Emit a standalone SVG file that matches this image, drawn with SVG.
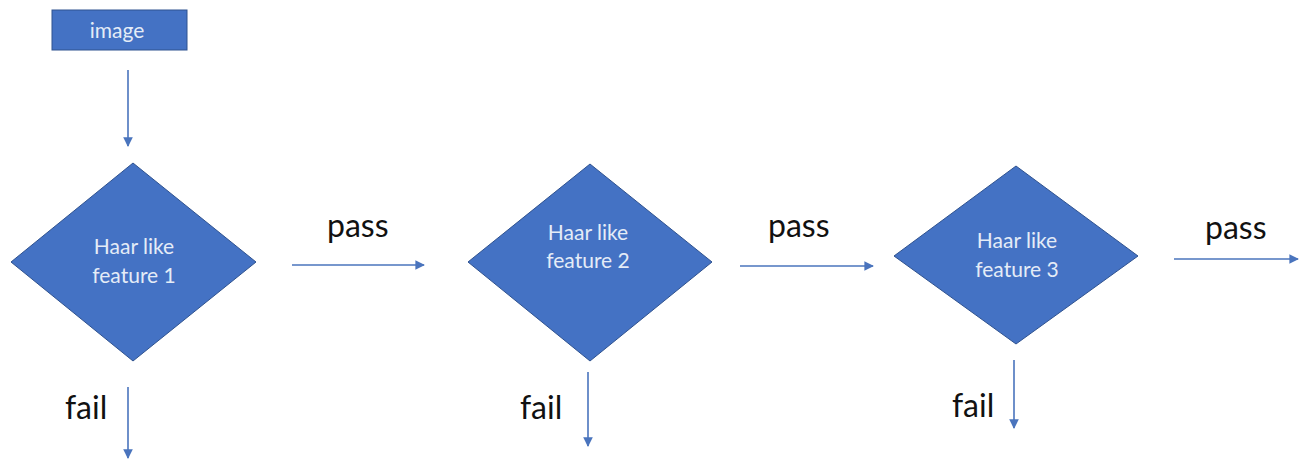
<svg xmlns="http://www.w3.org/2000/svg" width="1299" height="459" viewBox="0 0 1299 459">
<style>
.shape{fill:#4472c4;stroke:#2f528f;stroke-width:1}
.ntext{font-family:Lato,"Open Sans",sans-serif;font-size:21px;fill:#e4ecf7;text-anchor:middle}
.lbl{font-family:Lato,"Open Sans",sans-serif;font-size:32px;fill:#111}
.conn{stroke:#4a74bd;stroke-width:1.6;fill:none;marker-end:url(#ah)}
</style>
<defs>
<marker id="ah" viewBox="0 0 10 10" refX="9" refY="5" markerWidth="6" markerHeight="6" markerUnits="strokeWidth" orient="auto">
<path d="M0,0 L10,5 L0,10 z" fill="#4a74bd"/>
</marker>
</defs>
<rect width="1299" height="459" fill="#fff"/>
<g id="connectors">
<line class="conn" x1="128" y1="70" x2="128" y2="146"/>
<line class="conn" x1="292" y1="265" x2="424" y2="265"/>
<line class="conn" x1="740" y1="266" x2="873" y2="266"/>
<line class="conn" x1="1174" y1="259" x2="1298" y2="259"/>
<line class="conn" x1="128" y1="387" x2="128" y2="458"/>
<line class="conn" x1="588" y1="372" x2="588" y2="446"/>
<line class="conn" x1="1014" y1="360" x2="1014" y2="428"/>
</g>
<g id="image">
<rect class="shape" x="52" y="10" width="135" height="40"/>
<text class="ntext" x="117" y="38" font-size="20">image</text>
</g>
<g id="feature1">
<polygon class="shape" points="133,163 256,262 133,361 11,262"/>
<text class="ntext" x="134" y="254">Haar like</text>
<text class="ntext" x="134" y="283">feature 1</text>
</g>
<g id="feature2">
<polygon class="shape" points="590,164 712,262 590,361 468,262"/>
<text class="ntext" x="588" y="240">Haar like</text>
<text class="ntext" x="588" y="268">feature 2</text>
</g>
<g id="feature3">
<polygon class="shape" points="1016,166 1138,256 1016,344 894,256"/>
<text class="ntext" x="1017" y="248">Haar like</text>
<text class="ntext" x="1017" y="277">feature 3</text>
</g>
<g id="labels">
<text class="lbl" x="327" y="237">pass</text>
<text class="lbl" x="768" y="237">pass</text>
<text class="lbl" x="1205" y="239">pass</text>
<text class="lbl" x="65" y="419">fail</text>
<text class="lbl" x="520" y="419">fail</text>
<text class="lbl" x="952" y="417">fail</text>
</g>
</svg>
